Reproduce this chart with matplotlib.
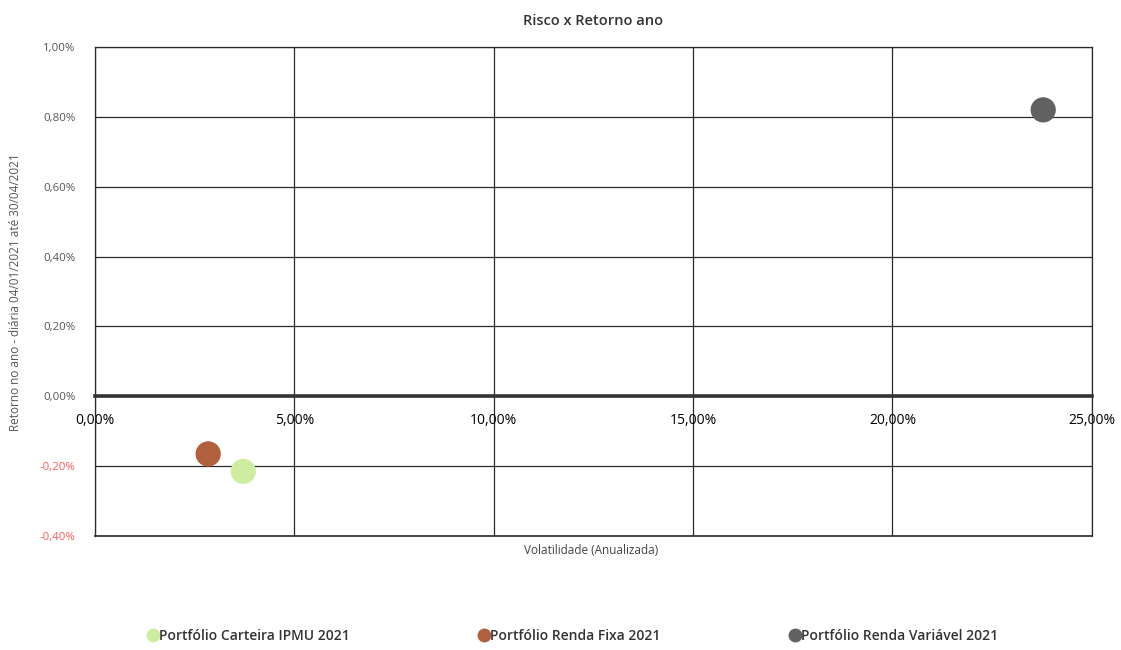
import matplotlib.pyplot as plt
from matplotlib.lines import Line2D

# --- Data (values in %) ---
SERIES = ['Portfólio Carteira IPMU 2021', 'Portfólio Renda Fixa 2021', 'Portfólio Renda Variável 2021']
VOLATILITY = [3.72, 2.84, 23.78]
RETURN = [-0.215, -0.165, 0.82]
COLORS = ['#cdeea0', '#b0603c', '#616161']

X_TICKS = [0, 5, 10, 15, 20, 25]
Y_TICKS = [-0.4, -0.2, 0.0, 0.2, 0.4, 0.6, 0.8, 1.0]

plt.rcParams['font.family'] = ['Open Sans', 'DejaVu Sans']

fig = plt.figure(figsize=(11.21, 6.5), dpi=100)
ax = fig.add_axes([0.0847, 0.1754, 0.8893, 0.7523])

for name, x, y, c in zip(SERIES, VOLATILITY, RETURN, COLORS):
    ax.scatter(x, y, s=330, color=c, zorder=4, label=name, edgecolors='none')

ax.set_xlim(0, 25)
ax.set_ylim(-0.4, 1.0)
ax.set_xticks(X_TICKS)
ax.set_yticks(Y_TICKS)
ax.set_xticklabels([f'{v:.2f}%'.replace('.', ',') for v in X_TICKS], fontsize=8.2, color='#3c4666')
ylabels = ax.set_yticklabels([f'{v:.2f}%'.replace('.', ',') for v in Y_TICKS], fontsize=8.2)
for lab, v in zip(ylabels, Y_TICKS):
    lab.set_color('#ff5a5a' if v < 0 else '#555555')

ax.grid(True, color='#2a2a2a', linewidth=0.9)
ax.set_axisbelow(True)
ax.tick_params(length=0)
ax.tick_params(axis='x', pad=12)
ax.tick_params(axis='y', pad=14)

# Excel-style: horizontal axis crosses at 0
ax.spines['bottom'].set_position(('data', 0))
ax.spines['bottom'].set_linewidth(2.6)
ax.spines['bottom'].set_color('#333333')
for s in ['left', 'top', 'right']:
    ax.spines[s].set_color('#2a2a2a')
    ax.spines[s].set_linewidth(0.9)
ax.axhline(-0.4, color='#2a2a2a', linewidth=1.2, clip_on=False)

ax.set_title('Risco x Retorno ano', fontsize=10.5, color='#333333', pad=16, fontweight='semibold')
fig.text(0.527, 0.153, 'Volatilidade (Anualizada)', ha='center', va='center', fontsize=8.5, color='#444444')
fig.text(0.014, 0.55, 'Retorno no ano - diária 04/01/2021 até 30/04/2021', rotation=90,
         ha='center', va='center', fontsize=8.5, color='#555555')

handles = [Line2D([], [], marker='o', linestyle='none', markersize=10, color=c, markeredgecolor='none')
           for c in COLORS]
fig.legend(handles, SERIES, loc='center', bbox_to_anchor=(0.511, 0.022), ncol=3, frameon=False,
           handletextpad=0.0, columnspacing=9.3, handlelength=0.8,
           prop={'size': 10, 'weight': 'semibold'}, labelcolor='#333333')

fig.savefig('out.png', dpi=100)
